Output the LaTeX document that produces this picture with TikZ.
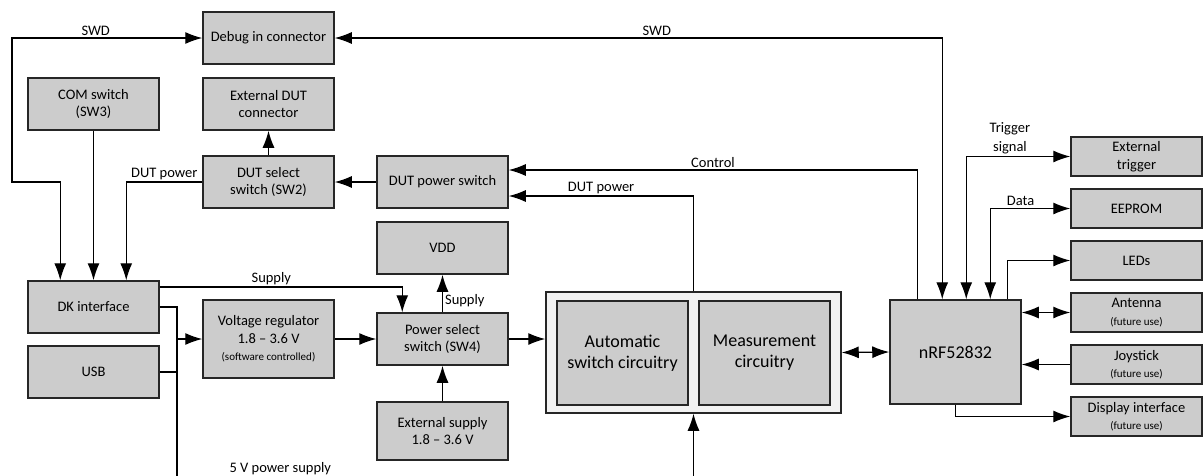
\documentclass[tikz,border=0pt]{standalone}
\usepackage{fontspec}
\setmainfont{Carlito}
\usetikzlibrary{arrows.meta}
\definecolor{boxgray}{HTML}{CCCCCC}
\definecolor{panelgray}{HTML}{F2F2F2}
\tikzset{
  blk/.style={draw=black!85, fill=boxgray, line width=1.5pt, minimum width=131pt, minimum height=52pt,
    inner sep=2pt, align=center, font=\fontsize{14.5}{17.5}\selectfont},
  side/.style={blk, minimum height=39pt},
  big/.style={blk, minimum height=104pt, font=\fontsize{18}{21}\selectfont},
  lbl/.style={font=\fontsize{14.5}{18.5}\selectfont, align=center, inner sep=2pt},
  >={Latex[length=17pt,width=12pt]}
}
\newcommand{\smalltxt}[1]{{\fontsize{11}{13}\selectfont #1}}
\begin{document}
\begin{tikzpicture}[x=1pt,y=-1pt,line width=1.2pt]
\useasboundingbox (0,0) rectangle (1203,475);
\node[blk] (debug) at (268.5,38) {Debug in connector};
\node[blk] (comsw) at (93.5,104) {COM switch\\(SW3)};
\node[blk] (extdut) at (268.5,104) {External DUT\\connector};
\node[blk] (dutsel) at (268.5,182) {DUT select\\switch (SW2)};
\node[blk] (dutpwr) at (442.5,182) {DUT power switch};
\node[blk] (vdd) at (442.5,248) {VDD};
\node[blk] (dk) at (93.5,307) {DK interface};
\node[blk] (usb) at (93.5,372) {USB};
\node[blk, minimum height=78pt] (vreg) at (268.5,339) {Voltage regulator\\1.8 – 3.6 V\\\smalltxt{(software controlled)}};
\node[blk] (pwrsel) at (442.5,339) {Power select\\switch (SW4)};
\node[blk, minimum height=58pt] (extsup) at (442.5,431) {External supply\\1.8 – 3.6 V};
\node[draw=black!85, fill=panelgray, line width=1.5pt, minimum width=295pt, minimum height=121pt] (outer) at (693.5,352.5) {};
\node[big] (auto) at (622.5,353) {Automatic\\switch circuitry};
\node[big] (meas) at (764.5,353) {Measurement\\circuitry};
\node[big] (nrf) at (955.5,352) {nRF52832};
\node[side] (exttrig) at (1136.5,156.5) {External\\trigger};
\node[side] (eeprom) at (1136.5,208.5) {EEPROM};
\node[side] (leds) at (1136.5,260.5) {LEDs};
\node[side] (antenna) at (1136.5,312.5) {Antenna\\\smalltxt{(future use)}};
\node[side] (joystick) at (1136.5,364.5) {Joystick\\\smalltxt{(future use)}};
\node[side] (display) at (1136.5,416.5) {Display interface\\\smalltxt{(future use)}};
\coordinate (pwr5v) at (177,477);
\draw[<->] (debug.west) -| (12,182) node[lbl,pos=0.28,above]{SWD} -| ([xshift=33]dk.north west);
\draw[->] (comsw.south) -- (comsw.south |- dk.north);
\draw[->] (dutsel.west) -| ([xshift=99]dk.north west) node[lbl,pos=0.25,above]{DUT power};
\draw[->] (dutsel) -- (extdut);
\draw[->] (dutpwr) -- (dutsel);
\draw[->] ([xshift=28]nrf.north west) |- ([yshift=12]dutpwr.east) node[lbl,pos=0.75,above]{Control};
\draw[->] (outer.north) |- ([yshift=-14]dutpwr.east) node[lbl,pos=0.75,above]{DUT power};
\draw[->] ([yshift=20]dk.east) -| ([xshift=26]pwrsel.north west) node[lbl,pos=0.23,above]{Supply};
\draw[->] (dk.east) -| (pwr5v) -| (outer.south) node[lbl,pos=0.1,above]{5 V power supply};
\draw (usb.east) -- (usb.east -| pwr5v);
\draw[->] (vreg.west -| pwr5v) -- (vreg.west);
\draw[->] (vreg) -- (pwrsel);
\draw[->] (pwrsel) -- (vdd) node[lbl,pos=0.3,right]{Supply};
\draw[->] (extsup) -- (pwrsel);
\draw[->] (pwrsel.east) -- (pwrsel.east -| outer.west);
\draw[<->] (outer.east) -- (nrf.west);
\draw[<->] (debug.east) -| ([xshift=53]nrf.north west) node[lbl,pos=0.265,above]{SWD};
\draw[<->] ([xshift=77]nrf.north west) |- (exttrig.west) node[lbl,pos=0.71,above]{Trigger\\signal};
\draw[<->] ([xshift=101]nrf.north west) |- (eeprom.west) node[lbl,pos=0.69,above]{Data};
\draw[->] ([xshift=118]nrf.north west) |- (leds.west);
\draw[<->] (antenna.west) -- (antenna.west -| nrf.east);
\draw[->] (joystick.west) -- (joystick.west -| nrf.east);
\draw[->] (nrf.south) |- (display.west);
\end{tikzpicture}
\end{document}
